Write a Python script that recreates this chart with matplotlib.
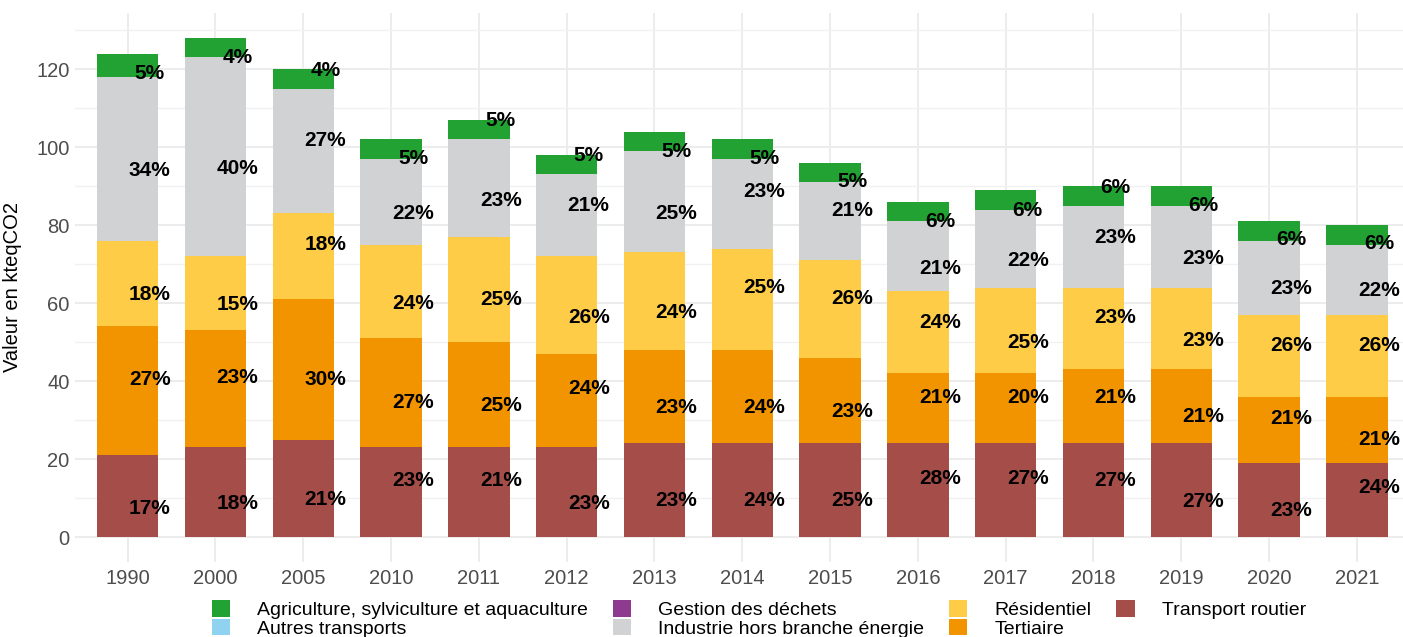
import numpy as np
import matplotlib
matplotlib.use("Agg")
import matplotlib.pyplot as plt
from matplotlib.patches import Patch

plt.rcParams["font.family"] = ["Liberation Sans", "DejaVu Sans"]

# -----------------------------------------------------------------------------
# Data (kteqCO2 by sector)
# -----------------------------------------------------------------------------
years = ["1990", "2000", "2005", "2010", "2011", "2012", "2013", "2014",
         "2015", "2016", "2017", "2018", "2019", "2020", "2021"]

transport_routier = [21, 23, 25, 23, 23, 23, 24, 24, 24, 24, 24, 24, 24, 19, 19]
tertiaire         = [33, 30, 36, 28, 27, 24, 24, 24, 22, 18, 18, 19, 19, 17, 17]
residentiel       = [22, 19, 22, 24, 27, 25, 25, 26, 25, 21, 22, 21, 21, 21, 21]
industrie         = [42, 51, 32, 22, 25, 21, 26, 23, 20, 18, 20, 21, 21, 19, 18]
gestion_dechets   = [0] * 15
autres_transports = [0] * 15
agriculture       = [6, 5, 5, 5, 5, 5, 5, 5, 5, 5, 5, 5, 5, 5, 5]

# vertical jitter applied to the percentage labels (kteqCO2 units)
jit_tr   = [-3.1, -2.8, -2.8, 3.1, 3.1, -2.8, -2.5, -2.5, -2.5, 2.9, 2.9, 2.6, -3.0, -2.6, 3.1]
jit_tert = [2.8, 2.8, -2.7, -2.6, -2.7, 3.2, -2.9, -2.9, -2.7, 2.9, 2.9, 2.4, -2.7, 3.0, -2.6]
jit_res  = [-2.7, -2.8, 2.9, -3.0, -2.7, -3.1, -2.8, 3.1, 2.8, 2.6, -3.0, 2.7, -3.0, 2.7, 2.7]
jit_ind  = [-3.0, -2.9, 2.8, -2.9, -3.1, 2.6, -2.9, 3.0, 2.8, -3.0, -3.0, 2.4, -3.0, -2.7, -2.7]
jit_agri = [-2.0, -2.4, 2.2, -2.3, 2.4, 2.4, -2.5, -2.3, -2.2, -2.7, -2.7, 2.2, -2.4, -2.3, -2.1]

# stacked bottom -> top
series = [
    ("Transport routier", transport_routier, "#a54d48", jit_tr),
    ("Tertiaire", tertiaire, "#f29400", jit_tert),
    ("Résidentiel", residentiel, "#fecc47", jit_res),
    ("Industrie hors branche énergie", industrie, "#d1d2d4", jit_ind),
    ("Gestion des déchets", gestion_dechets, "#8e3a8f", None),
    ("Autres transports", autres_transports, "#90d3f1", None),
    ("Agriculture, sylviculture et aquaculture", agriculture, "#22a233", jit_agri),
]

# -----------------------------------------------------------------------------
# Figure
# -----------------------------------------------------------------------------
W, H = 1403, 637
fig = plt.figure(figsize=(W / 100, H / 100), dpi=100)
ax = fig.add_axes([75 / W, (H - 562) / H, 1 - 75 / W, (562 - 13) / H])

x = np.arange(len(years))
totals = np.sum([s[1] for s in series], axis=0)
bottom = np.zeros(len(years))

for name, vals, color, jit in series:
    vals = np.array(vals, dtype=float)
    ax.bar(x, vals, width=0.7, bottom=bottom, color=color, linewidth=0, zorder=2)
    if jit is not None:
        for i in range(len(years)):
            pct = vals[i] / totals[i] * 100
            ax.text(x[i] + 0.25, bottom[i] + vals[i] / 2 + jit[i], f"{pct:.0f}%",
                    ha="center", va="center", fontsize=15, fontweight="bold",
                    color="black", zorder=3)
    bottom += vals

ax.set_xlim(-0.6, -0.6 + (W - 75) / 87.8)
ax.set_ylim(-6.4, 134.4)
ax.set_xticks(x)
ax.set_xticklabels(years)
ax.set_yticks(np.arange(0, 121, 20))
ax.set_yticks(np.arange(10, 131, 20), minor=True)

ax.grid(True, which="major", color="#ebebeb", linewidth=1.3, zorder=0)
ax.grid(True, which="minor", axis="y", color="#f1f1f1", linewidth=1.0, zorder=0)
ax.set_axisbelow(True)
for sp in ax.spines.values():
    sp.set_visible(False)
ax.tick_params(axis="both", which="both", length=0, colors="#4d4d4d", labelsize=14.5)
ax.tick_params(axis="y", pad=4)
ax.tick_params(axis="x", pad=5)

ax.set_ylabel("Valeur en kteqCO2", fontsize=14.5, color="black", labelpad=6)
ax.yaxis.set_label_coords(-(75 - 22) / (W - 75), 0.5)

# legend in alphabetical order, filled column-wise
legend_order = [
    "Agriculture, sylviculture et aquaculture",
    "Autres transports",
    "Gestion des déchets",
    "Industrie hors branche énergie",
    "Résidentiel",
    "Tertiaire",
    "Transport routier",
]
colors = {s[0]: s[2] for s in series}
handles = [Patch(facecolor=colors[n], edgecolor="none", label=n) for n in legend_order]
fig.legend(handles=handles, loc="upper left", bbox_to_anchor=(212 / W, (H - 600) / H),
           ncol=4, frameon=False, fontsize=14, handlelength=0.93, handleheight=0.93,
           handletextpad=1.4, columnspacing=1.28, labelspacing=-0.02, borderpad=0,
           borderaxespad=0)

fig.savefig("out.png", dpi=100)
